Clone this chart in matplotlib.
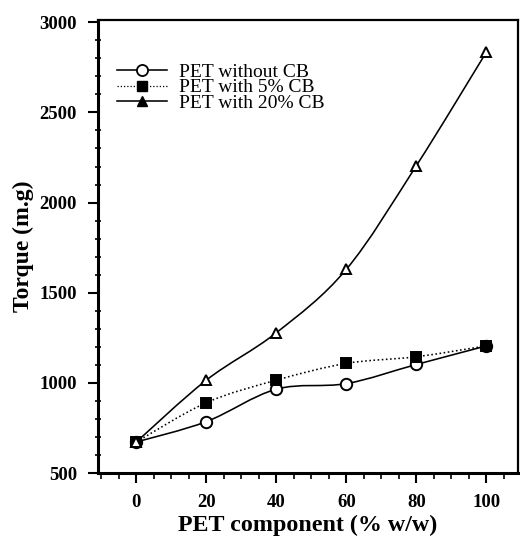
import numpy as np
import matplotlib
matplotlib.use('Agg')
import matplotlib.pyplot as plt
from matplotlib.path import Path
from matplotlib.patches import PathPatch
from matplotlib.lines import Line2D
from matplotlib.ticker import MultipleLocator

plt.rcParams['font.family'] = ['Liberation Serif', 'DejaVu Serif']

# data
pet = [0, 20, 40, 60, 80, 100]
no_cb = [672, 785, 965, 996, 1102, 1205]
cb5 = [672, 890, 1015, 1108, 1145, 1205]
cb20 = [672, 1015, 1278, 1630, 2205, 2835]
labels = ['PET without CB', 'PET with 5% CB', 'PET with 20% CB']


def smooth_path(x, y):
    # catmull-rom style bezier through the data points (drawing style only)
    x = np.asarray(x, float)
    y = np.asarray(y, float)
    verts = [(x[0], y[0])]
    codes = [Path.MOVETO]
    n = len(x)
    for i in range(n - 1):
        p0 = np.array([x[max(i - 1, 0)], y[max(i - 1, 0)]])
        p1 = np.array([x[i], y[i]])
        p2 = np.array([x[i + 1], y[i + 1]])
        p3 = np.array([x[min(i + 2, n - 1)], y[min(i + 2, n - 1)]])
        c1 = p1 + (p2 - p0) / 6.0
        c2 = p2 - (p3 - p1) / 6.0
        verts += [tuple(c1), tuple(c2), tuple(p2)]
        codes += [Path.CURVE4] * 3
    return Path(verts, codes)


fig = plt.figure(figsize=(5.2, 5.44), dpi=100)
ax = fig.add_axes([0.188, 0.1305, 0.808, 0.8325])

dotted = (0, (1, 1.6))
styles = [
    (no_cb, '-', 'o', 'white', 8.2),
    (cb5, dotted, 's', 'black', 7),
    (cb20, '-', '^', 'white', 7.5),
]
for (yy, ls, mk, fc, ms) in styles:
    ax.add_patch(PathPatch(smooth_path(pet, yy), fill=False, lw=1.15,
                           ls=ls, ec='black', zorder=2))
    ax.plot(pet, yy, ls='none', marker=mk, ms=ms, mfc=fc, mec='black',
            mew=1.4, zorder=3)

handles = [
    Line2D([], [], color='black', lw=1.15, ls='-', marker='o', ms=8,
           mfc='white', mec='black', mew=1.3),
    Line2D([], [], color='black', lw=0.9, ls=dotted, marker='s',
           ms=6.5, mfc='black', mec='black'),
    Line2D([], [], color='black', lw=1.15, ls='-', marker='^', ms=7,
           mfc='black', mec='black'),
]
ax.legend(handles, labels, loc='upper left', bbox_to_anchor=(0.045, 0.905),
          frameon=False, fontsize=14, handlelength=2.6, handletextpad=0.6,
          labelspacing=-0.1, borderaxespad=0.0, borderpad=0.0)

ax.set_xlim(-11, 109)
ax.set_ylim(500, 3012)
ax.set_xticks(pet)
ax.set_yticks([500, 1000, 1500, 2000, 2500, 3000])
ax.xaxis.set_minor_locator(MultipleLocator(5))
ax.yaxis.set_minor_locator(MultipleLocator(100))
ax.tick_params(which='major', direction='out', length=7, width=1.5,
               labelsize=13.5, pad=8)
ax.tick_params(axis='x', which='minor', direction='out', length=4, width=1.2)
ax.tick_params(axis='y', which='minor', direction='inout', length=5, width=1.2)
for lab in ax.get_xticklabels() + ax.get_yticklabels():
    lab.set_fontweight('bold')

for side in ['left', 'bottom']:
    ax.spines[side].set_linewidth(2.2)
for side in ['top', 'right']:
    ax.spines[side].set_linewidth(1.6)

ax.set_xlabel('PET component (% w/w)', fontsize=17.3, fontweight='bold',
              labelpad=3)
ax.set_ylabel('Torque (m.g)', fontsize=17, fontweight='bold', labelpad=4)

fig.savefig('out.png', dpi=100)
